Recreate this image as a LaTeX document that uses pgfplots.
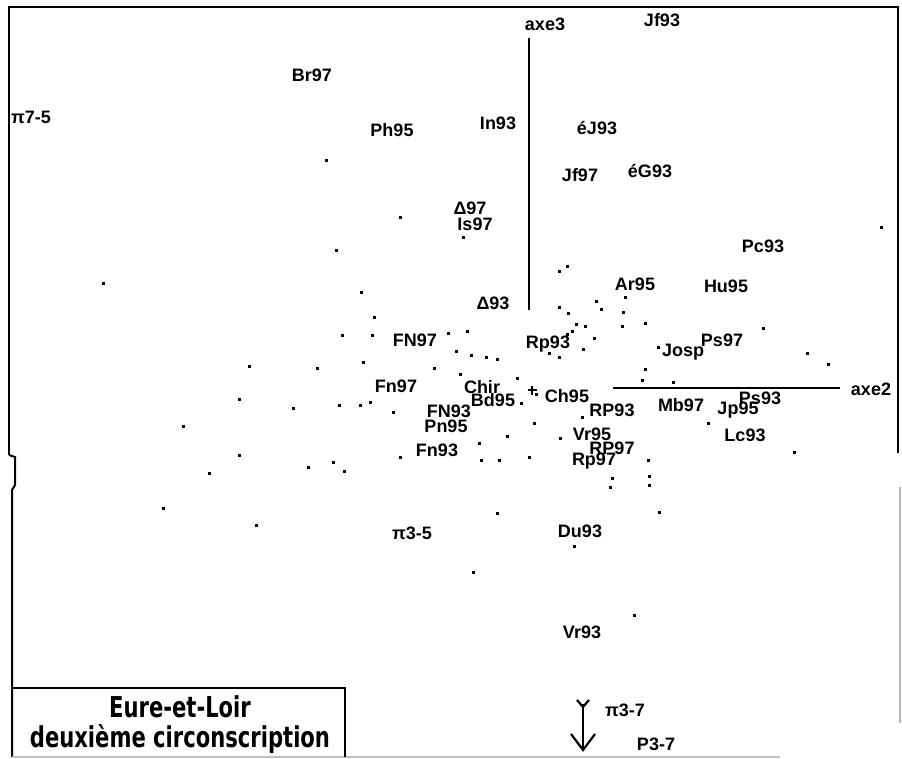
\documentclass[border=0pt]{standalone}
\usepackage{fontspec}
\setmainfont{Liberation Sans}
\newfontfamily\condfont{DejaVu Sans Condensed}
\usepackage{graphicx}
\usepackage{pgfplots}
\usepackage{pgfplotstable}
\pgfplotsset{compat=1.18}

% pixel-like frame: x to the right, y downwards
\pgfplotstableread{
x y label
31 117 π7-5
312 75 Br97
392 130 Ph95
545 24 axe3
662 20 Jf93
498 123 In93
597 128 éJ93
580 175 Jf97
650 171 éG93
470 208 Δ97
475 224 Is97
763 246 Pc93
635 284 Ar95
726 286 Hu95
493 303 Δ93
415 340 FN97
548 344 Rp93
722 340 Ps97
683 352 Josp
396 386 Fn97
482 387 Chir
493 400 Bd95
567 396 Ch95
871 389 axe2
760 398 Ps93
681 405 Mb97
738 410 Jp95
612 410 RP93
449 411 FN93
446 426 Pn95
592 434 Vr95
745 435 Lc93
612 448 RP97
437 450 Fn93
594 461 Rp97
412 533 π3-5
580 531 Du93
582 632 Vr93
625 710 π3-7
656 744 P3-7
}\labels

\pgfplotstableread{
x y
326 160
400 217
336 250
103 283
361 292
881 227
463 237
559 271
567 266
374 317
342 335
372 335
448 333
467 331
249 366
317 368
363 362
434 368
239 399
293 408
339 405
360 405
370 402
393 412
183 426
239 455
209 473
308 467
333 462
344 471
400 457
163 508
256 525
456 351
471 355
486 357
497 359
460 374
517 378
559 307
568 313
576 324
572 331
567 334
549 353
559 357
585 326
596 301
601 309
625 297
623 312
622 326
645 323
594 338
583 349
658 347
645 369
642 380
673 382
763 328
807 353
828 364
521 403
536 394
582 417
534 423
507 436
560 438
479 443
481 460
499 460
529 457
648 460
612 478
610 487
649 476
649 485
708 423
794 452
497 513
659 512
574 546
473 572
634 615
}\dots

\begin{document}
\begin{tikzpicture}
\begin{axis}[
    name=ax,
    scale only axis,
    width=902pt, height=759pt,
    xmin=0, xmax=902, ymin=0, ymax=759,
    y dir=reverse,
    hide axis,
    clip=false,
]
% frame
\addplot[black, line width=2pt, no marks] coordinates {(9,455) (9,7) (898,7) (898,453)};
\addplot[black, line width=2pt, no marks] coordinates {(9,455) (15,457) (15,485) (12,490) (12,757)};
\addplot[gray!60, line width=1.2pt, no marks] coordinates {(900,487) (900,723)};
\addplot[gray!50, line width=1.2pt, no marks] coordinates {(12,757) (780,757)};
% legend box
\addplot[black, line width=2pt, no marks] coordinates {(12,688) (345,688) (345,757)};
% axes 3 and 2
\addplot[black, line width=2.4pt, no marks] coordinates {(529,38) (529,310)};
\addplot[black, line width=2.4pt, no marks] coordinates {(613,388) (840,388)};
% arrow at the bottom
\addplot[black, line width=2.2pt, no marks] coordinates {(583,704) (583,750)};
\addplot[black, line width=2.2pt, no marks] coordinates {(571,734) (583,750) (595,734)};
\addplot[black, line width=2.2pt, no marks] coordinates {(577,700) (583,707) (589,700)};
% origin
\addplot[black, only marks, mark=+, mark size=4.5pt, line width=1.8pt] coordinates {(532,390)};
% points
\addplot[black, only marks, mark=square*, mark size=1.15pt] table[x=x, y=y] {\dots};
% labels
\addplot[only marks, mark=none,
    nodes near coords,
    point meta=explicit symbolic,
    nodes near coords style={anchor=center, inner sep=0pt,
        font=\fontsize{18}{20}\selectfont\bfseries},
] table[x=x, y=y, meta=label] {\labels};
\node[font=\condfont\fontsize{23}{26}\selectfont\bfseries] at (axis cs:180,707) {\scalebox{1.02}[1.25]{Eure-et-Loir}};
\node[font=\condfont\fontsize{23}{26}\selectfont\bfseries] at (axis cs:180,739) {\scalebox{1.02}[1.25]{deuxième circonscription}};
\end{axis}
\pgfresetboundingbox
\useasboundingbox (ax.south west) rectangle (ax.north east);
\end{tikzpicture}
\end{document}
